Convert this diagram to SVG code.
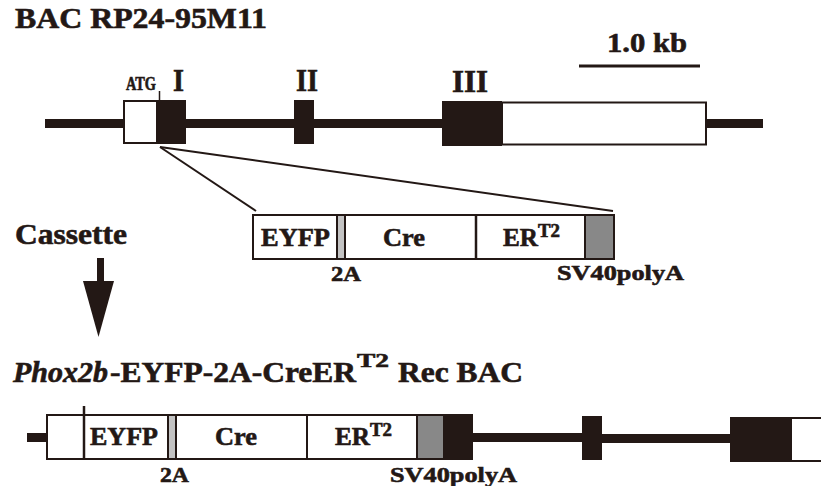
<svg xmlns="http://www.w3.org/2000/svg" width="821" height="486" viewBox="0 0 821 486">
<style>
text{font-family:"Liberation Serif","Times New Roman",serif;font-weight:bold;fill:#231815;stroke:#231815;stroke-width:0.6}
.blk{fill:#231815}
.wht{fill:#ffffff;stroke:#231815;stroke-width:2}
.g1{fill:#c3c3c3;stroke:#231815;stroke-width:2}
.g2{fill:#888888;stroke:#231815;stroke-width:2}
.ln{stroke:#231815;fill:none}
</style>
<rect width="821" height="486" fill="#ffffff"/>
<g id="title-top"><text x="15" y="28" font-size="29" textLength="252" lengthAdjust="spacingAndGlyphs">BAC RP24-95M11</text></g>
<g id="scale-bar">
<text x="607" y="52" font-size="28" textLength="80" lengthAdjust="spacingAndGlyphs">1.0 kb</text>
<line class="ln" x1="579" y1="66" x2="700" y2="66" stroke-width="3"/>
</g>
<g id="bac-top">
<rect class="blk" x="45" y="119" width="718" height="9"/>
<rect class="wht" x="124" y="101" width="33" height="42"/>
<rect class="blk" x="157" y="100" width="29" height="44"/>
<line class="ln" x1="159.5" y1="91" x2="159.5" y2="101" stroke-width="1.5"/>
<rect class="blk" x="294" y="100" width="20" height="44"/>
<rect class="blk" x="442" y="101" width="60" height="45"/>
<rect class="wht" x="502" y="102.5" width="204" height="42"/>
<text x="126" y="89.5" font-size="18" textLength="30" lengthAdjust="spacingAndGlyphs">ATG</text>
<text x="173" y="91" font-size="31" textLength="11" lengthAdjust="spacingAndGlyphs">I</text>
<text x="296" y="91" font-size="31" textLength="22" lengthAdjust="spacingAndGlyphs">II</text>
<text x="452" y="92" font-size="31" textLength="36" lengthAdjust="spacingAndGlyphs">III</text>
</g>
<g id="connectors">
<line class="ln" x1="160" y1="147" x2="256" y2="211" stroke-width="2"/>
<line class="ln" x1="160" y1="147" x2="613" y2="211" stroke-width="2"/>
<rect class="blk" x="97" y="258" width="7" height="24"/>
<polygon class="blk" points="83,281 114,281 98.5,337"/>
</g>
<g id="cassette-label"><text x="15" y="244" font-size="30" textLength="112" lengthAdjust="spacingAndGlyphs">Cassette</text></g>
<g id="cassette">
<rect class="wht" x="253" y="215" width="361" height="44" stroke-width="2.5"/>
<rect class="g1" x="337" y="215" width="8" height="44"/>
<line class="ln" x1="476" y1="215" x2="476" y2="259" stroke-width="2.5"/>
<rect class="g2" x="585" y="215" width="29" height="44" stroke-width="2.5"/>
<text x="261" y="246" font-size="26" textLength="69" lengthAdjust="spacingAndGlyphs">EYFP</text>
<text x="383" y="246" font-size="26" textLength="42" lengthAdjust="spacingAndGlyphs">Cre</text>
<text x="503" y="246" font-size="26" textLength="35" lengthAdjust="spacingAndGlyphs">ER</text>
<text x="538" y="237" font-size="18" textLength="22" lengthAdjust="spacingAndGlyphs">T2</text>
<text x="331" y="281" font-size="22" textLength="30" lengthAdjust="spacingAndGlyphs">2A</text>
<text x="557" y="280" font-size="22" textLength="127" lengthAdjust="spacingAndGlyphs">SV40polyA</text>
</g>
<g id="title-bottom">
<text x="13" y="382" font-size="29" font-style="italic" textLength="95" lengthAdjust="spacingAndGlyphs">Phox2b</text>
<text x="110" y="382" font-size="29" textLength="246" lengthAdjust="spacingAndGlyphs">-EYFP-2A-CreER</text>
<text x="357" y="367" font-size="19" textLength="32" lengthAdjust="spacingAndGlyphs">T2</text>
<text x="398" y="382" font-size="29" textLength="125" lengthAdjust="spacingAndGlyphs">Rec BAC</text>
</g>
<g id="bac-rec">
<rect class="blk" x="27" y="433" width="20" height="9"/>
<rect class="blk" x="473" y="433" width="110" height="9"/>
<rect class="blk" x="602" y="434" width="128" height="9"/>
<rect class="wht" x="47" y="415" width="370" height="44"/>
<line class="ln" x1="84" y1="406" x2="84" y2="459" stroke-width="2.5"/>
<rect class="g1" x="168" y="415" width="8" height="44"/>
<line class="ln" x1="307" y1="415" x2="307" y2="459" stroke-width="2"/>
<rect class="g2" x="417" y="415" width="27" height="44"/>
<rect class="blk" x="444" y="414" width="29" height="46"/>
<rect class="blk" x="582" y="416" width="20" height="44"/>
<rect class="blk" x="730" y="417" width="61" height="45"/>
<rect class="wht" x="791" y="418" width="40" height="43"/>
<text x="90" y="445" font-size="26" textLength="68" lengthAdjust="spacingAndGlyphs">EYFP</text>
<text x="215" y="445" font-size="26" textLength="42" lengthAdjust="spacingAndGlyphs">Cre</text>
<text x="335" y="445" font-size="26" textLength="35" lengthAdjust="spacingAndGlyphs">ER</text>
<text x="370" y="436" font-size="18" textLength="22" lengthAdjust="spacingAndGlyphs">T2</text>
<text x="160" y="482" font-size="22" textLength="29" lengthAdjust="spacingAndGlyphs">2A</text>
<text x="390" y="482" font-size="22" textLength="127" lengthAdjust="spacingAndGlyphs">SV40polyA</text>
</g>
</svg>
